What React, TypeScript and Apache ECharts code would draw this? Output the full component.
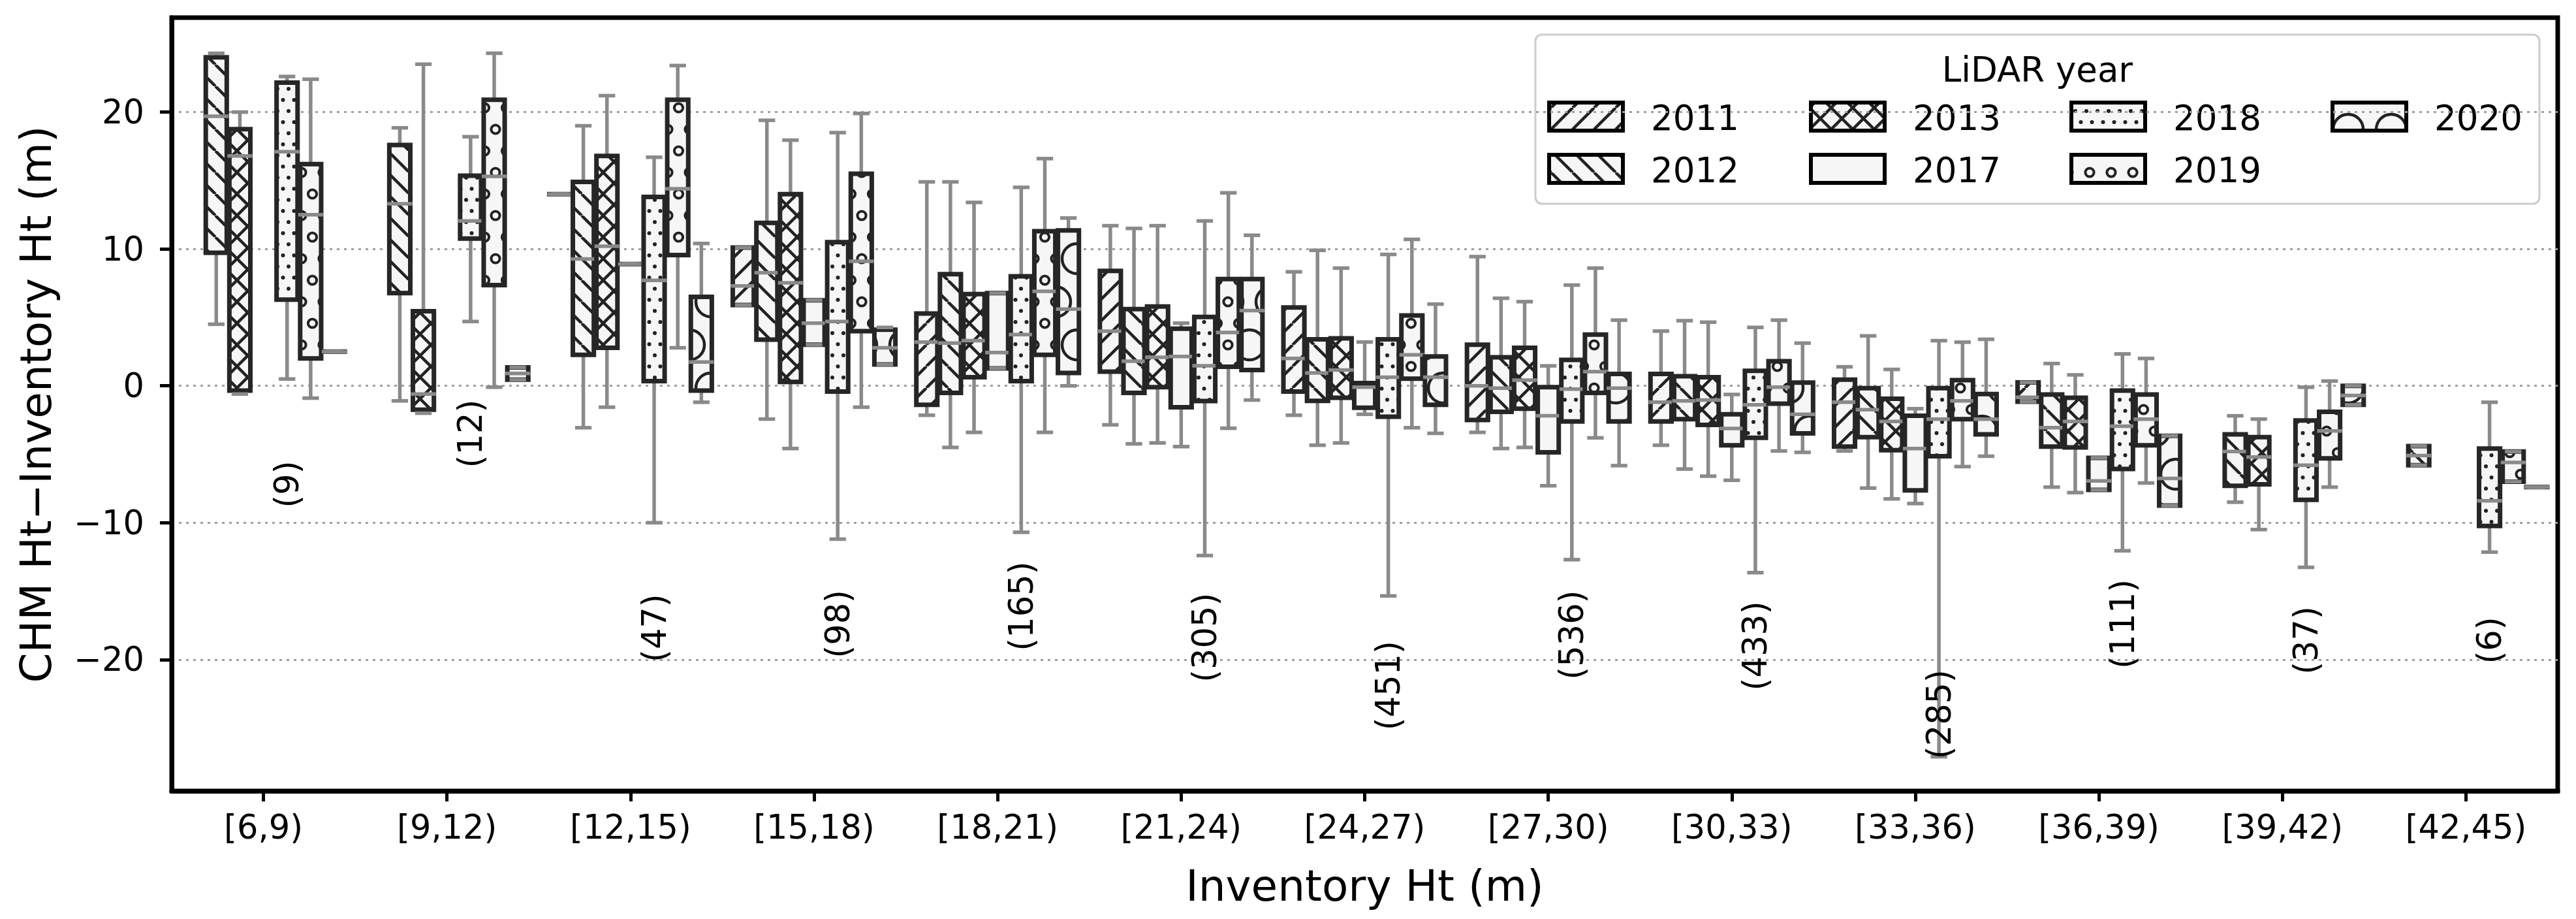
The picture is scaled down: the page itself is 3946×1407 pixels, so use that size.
import React, { useEffect, useRef } from 'react';
import * as echarts from 'echarts';

// ---------------- data ----------------
const CATEGORIES = ['[6,9)', '[9,12)', '[12,15)', '[15,18)', '[18,21)', '[21,24)', '[24,27)', '[27,30)', '[30,33)', '[33,36)', '[36,39)', '[39,42)', '[42,45)'];
const YEARS = ['2011', '2012', '2013', '2017', '2018', '2019', '2020'];
const Y_TICKS = [-20, -10, 0, 10, 20];
const Y_MIN = -29.6;
const Y_MAX = 26.9;

// each entry: [whiskerLow, Q1, median, Q3, whiskerHigh] per category; null = no data
const BOX_2011 = [null, null, [14.0, 14.0, 14.0, 14.0, 14.0], [5.9, 5.9, 7.3, 10.1, 10.1], [-2.15, -1.39, 3.19, 5.28, 14.9], [-2.85, 1.04, 4.0, 8.4, 11.7], [-2.15, -0.42, 2.0, 5.73, 8.33], [-3.4, -2.5, 0.0, 3.0, 9.44], [-4.34, -2.6, -1.2, 0.87, 4.0], [-4.76, -4.44, -1.2, 0.45, 1.39], [-1.16, -1.16, -0.84, 0.25, 0.25], null, null];
const BOX_2012 = [[4.5, 9.72, 19.7, 24.0, 24.3], [-1.1, 6.77, 13.3, 17.6, 18.85], [-3.06, 2.26, 9.27, 14.9, 19.0], [-2.43, 3.37, 8.26, 11.9, 19.4], [-4.5, -0.52, 3.12, 8.16, 14.9], [-4.24, -0.52, 1.8, 5.6, 11.5], [-4.34, -1.1, 0.94, 3.4, 9.9], [-4.58, -1.9, -0.17, 2.08, 6.4], [-6.08, -2.43, -1.1, 0.7, 4.76], [-7.47, -3.75, -1.74, -0.17, 3.65], [-7.4, -4.44, -3.06, -0.63, 1.63], [-8.5, -7.3, -4.8, -3.54, -2.19], [-5.8, -5.8, -5.1, -4.4, -4.4]];
const BOX_2013 = [[-0.6, -0.35, 16.8, 18.75, 20.0], [-2.0, -1.74, -0.6, 5.45, 23.5], [-1.56, 2.78, 10.2, 16.8, 21.2], [-4.58, 0.28, 7.53, 14.0, 17.95], [-3.4, 0.63, 3.3, 6.7, 13.4], [-4.17, -0.1, 2.08, 5.8, 11.7], [-4.17, -0.87, 1.15, 3.47, 8.6], [-4.5, -1.67, 0.42, 2.78, 6.15], [-6.6, -2.85, -1.04, 0.63, 4.65], [-8.26, -4.7, -2.6, -0.94, 1.2], [-7.8, -4.5, -2.6, -0.87, 0.8], [-10.5, -7.2, -5.2, -3.75, -2.43], null];
const BOX_2017 = [null, null, [8.9, 8.9, 8.9, 8.9, 8.9], [3.0, 3.0, 4.58, 6.25, 6.25], [1.28, 1.28, 2.43, 6.77, 6.77], [-4.44, -1.56, 2.15, 4.17, 4.58], [-2.08, -1.6, -0.1, 0.2, 3.2], [-7.3, -4.86, -2.19, -0.1, 1.46], [-6.9, -4.34, -3.12, -2.08, -0.63], [-8.6, -7.64, -4.58, -2.19, -1.67], [-7.6, -7.6, -6.94, -5.26, -5.26], null, null];
const BOX_2018 = [[0.5, 6.3, 17.1, 22.15, 22.6], [4.7, 10.76, 12.05, 15.35, 18.2], [-10.0, 0.35, 7.7, 13.8, 16.7], [-11.2, -0.42, 4.7, 10.5, 18.5], [-10.7, 0.35, 3.75, 8.0, 14.5], [-12.4, -1.11, 1.46, 5.03, 12.05], [-15.35, -2.26, 0.63, 3.4, 9.6], [-12.7, -2.6, -0.24, 1.9, 7.36], [-13.65, -3.8, -1.39, 1.1, 4.27], [-27.1, -5.14, -2.43, -0.17, 3.3], [-12.05, -6.08, -2.95, -0.35, 2.33], [-13.26, -8.33, -5.8, -2.53, -0.1], [-12.15, -10.24, -8.4, -4.58, -1.2]];
const BOX_2019 = [[-0.9, 2.0, 12.5, 16.2, 22.4], [-0.1, 7.36, 15.3, 20.9, 24.3], [2.78, 9.55, 14.4, 20.9, 23.4], [-1.56, 4.0, 9.1, 15.5, 19.9], [-3.4, 2.26, 6.9, 11.3, 16.6], [-3.1, 1.39, 3.9, 7.8, 14.1], [-3.06, 0.52, 2.26, 5.14, 10.7], [-3.8, -0.52, 1.04, 3.75, 8.6], [-4.76, -1.3, -0.1, 1.8, 4.8], [-5.9, -2.43, -1.1, 0.42, 3.19], [-7.1, -4.34, -2.43, -0.63, 2.0], [-7.4, -5.3, -3.3, -1.9, 0.35], [-7.0, -7.0, -5.6, -4.8, -4.8]];
const BOX_2020 = [[2.5, 2.5, 2.5, 2.5, 2.5], [0.45, 0.45, 0.9, 1.35, 1.35], [-1.2, -0.35, 1.74, 6.5, 10.4], [1.56, 1.56, 2.78, 4.1, 4.27], [0.0, 0.94, 5.6, 11.35, 12.26], [-1.04, 1.15, 5.5, 7.8, 11.0], [-3.47, -1.39, 0.63, 2.15, 5.97], [-5.83, -2.6, -0.17, 0.87, 4.8], [-4.86, -3.47, -2.08, 0.24, 3.12], [-5.14, -3.54, -2.43, -0.6, 3.4], [-8.75, -8.75, -6.77, -3.65, -3.65], [-1.39, -1.39, -0.7, 0.0, 0.0], [-7.4, -7.4, -7.4, -7.4, -7.4]];
const BOXES = [BOX_2011, BOX_2012, BOX_2013, BOX_2017, BOX_2018, BOX_2019, BOX_2020];

// sample size per category and the height at which its label sits
const COUNTS = [9, 12, 47, 98, 165, 305, 451, 536, 433, 285, 111, 37, 6];
const COUNT_LABEL_Y = [-7.2, -3.5, -17.7, -17.4, -16.1, -18.4, -21.9, -18.2, -19.0, -24.0, -17.4, -18.6, -18.6];

// ---------------- style ----------------
const FONT = 'DejaVu Sans';
const GRAY = '#8a8a8a';
const EDGE = '#262626';
const HATCH = '#222222';
const BG = '#f6f6f6';
const SLOT = 0.9 / 7;

type Pat = any;

function tile(w: number, h: number, draw: (ctx: CanvasRenderingContext2D, w: number, h: number) => void): Pat {
  const c = document.createElement('canvas');
  c.width = w;
  c.height = h;
  const ctx = c.getContext('2d') as CanvasRenderingContext2D;
  ctx.fillStyle = BG;
  ctx.fillRect(0, 0, w, h);
  ctx.strokeStyle = HATCH;
  ctx.fillStyle = HATCH;
  draw(ctx, w, h);
  return { image: c.toDataURL(), repeat: 'repeat', imageWidth: w, imageHeight: h };
}

function makePatterns(): Pat[] {
  const LW = 4.5;
  const slash = tile(33, 33, (ctx, w, h) => {
    ctx.lineWidth = LW;
    ctx.beginPath();
    for (let k = -1; k <= 1; k++) { ctx.moveTo(k * w, h); ctx.lineTo(k * w + w, 0); }
    ctx.stroke();
  });
  const back = tile(33, 33, (ctx, w, h) => {
    ctx.lineWidth = LW;
    ctx.beginPath();
    for (let k = -1; k <= 1; k++) { ctx.moveTo(k * w, 0); ctx.lineTo(k * w + w, h); }
    ctx.stroke();
  });
  const cross = tile(33, 33, (ctx, w, h) => {
    ctx.lineWidth = LW;
    ctx.beginPath();
    for (let k = -1; k <= 1; k++) {
      ctx.moveTo(k * w, h); ctx.lineTo(k * w + w, 0);
      ctx.moveTo(k * w, 0); ctx.lineTo(k * w + w, h);
    }
    ctx.stroke();
  });
  const shapes = (w: number, h: number, r: number, filled: boolean, lw: number) =>
    tile(w, h, (ctx) => {
      ctx.lineWidth = lw;
      const pts = [[0, 0], [w, 0], [0, h], [w, h], [w / 2, h / 2]];
      pts.forEach(([x, y]) => {
        ctx.beginPath();
        ctx.arc(x, y, r, 0, Math.PI * 2);
        if (filled) ctx.fill(); else ctx.stroke();
      });
    });
  const dots = shapes(17, 34, 3, true, 1);
  const small = shapes(33, 66, 6.6, false, 4);
  const large = shapes(66, 132, 23, false, 4.5);
  return [slash, back, cross, BG, dots, small, large];
}

export default function App() {
  const ref = useRef<HTMLDivElement>(null);

  useEffect(() => {
    document.body.style.margin = '0';
    if (!ref.current) return;
    const chart = echarts.init(ref.current, undefined, { renderer: 'svg' });
    const patterns = makePatterns();

    const boxSeries = YEARS.map((year, yi) => {
      const data = BOXES[yi]
        .map((s, ci) => (s ? [ci + (yi - 3) * SLOT, ...s] : null))
        .filter((d) => d !== null);
      return {
        type: 'custom',
        name: year,
        xAxisIndex: 1,
        yAxisIndex: 0,
        data,
        z: 5,
        renderItem: (params: any, api: any) => {
          const x = api.value(0);
          const pLo = api.coord([x, api.value(1)]);
          const pQ1 = api.coord([x, api.value(2)]);
          const pMed = api.coord([x, api.value(3)]);
          const pQ3 = api.coord([x, api.value(4)]);
          const pHi = api.coord([x, api.value(5)]);
          const cx = pLo[0];
          const w = api.size([SLOT, 0])[0];
          const cap = w * 0.7;
          const line = (x1: number, y1: number, x2: number, y2: number) => ({
            type: 'line',
            shape: { x1, y1, x2, y2 },
            style: { stroke: GRAY, lineWidth: 5.5 },
          });
          return {
            type: 'group',
            children: [
              line(cx, pQ3[1], cx, pHi[1]),
              line(cx, pQ1[1], cx, pLo[1]),
              {
                type: 'rect',
                shape: { x: cx - w / 2 + 2, y: pQ3[1], width: w - 4, height: Math.max(pQ1[1] - pQ3[1], 0.01) },
                style: { fill: patterns[yi], stroke: EDGE, lineWidth: 7 },
              },
              line(cx - cap / 2, pHi[1], cx + cap / 2, pHi[1]),
              line(cx - cap / 2, pLo[1], cx + cap / 2, pLo[1]),
              line(cx - w / 2 - 1, pMed[1], cx + w / 2 + 1, pMed[1]),
            ],
          };
        },
      };
    });

    const countSeries = {
      type: 'custom',
      name: 'n',
      xAxisIndex: 1,
      yAxisIndex: 0,
      z: 6,
      data: COUNTS.map((n, i) => [i + SLOT, COUNT_LABEL_Y[i], n]),
      renderItem: (params: any, api: any) => {
        const p = api.coord([api.value(0), api.value(1)]);
        return {
          type: 'text',
          x: p[0],
          y: p[1],
          rotation: Math.PI / 2,
          style: {
            text: '(' + api.value(2) + ')',
            fontSize: 51,
            fontFamily: FONT,
            fill: '#000',
            align: 'center',
            verticalAlign: 'middle',
          },
        };
      },
    };

    // legend drawn with graphic elements (column-major, 2 rows)
    const LEG_X = [2373, 2774, 3173, 3573];
    const LEG_Y = [157, 237];
    const legendChildren: any[] = [
      {
        type: 'rect',
        shape: { x: 2352, y: 53, width: 1538, height: 259, r: 10 },
        style: { fill: 'rgba(255,255,255,0.82)', stroke: '#cccccc', lineWidth: 3 },
      },
      {
        type: 'text',
        x: 3121,
        y: 106,
        style: { text: 'LiDAR year', fontSize: 53, fontFamily: FONT, fill: '#000', align: 'center', verticalAlign: 'middle' },
      },
    ];
    YEARS.forEach((year, yi) => {
      const col = Math.floor(yi / 2);
      const row = yi % 2;
      const x = LEG_X[col];
      const y = LEG_Y[row];
      legendChildren.push({
        type: 'rect',
        shape: { x, y, width: 113, height: 43 },
        style: { fill: patterns[yi], stroke: '#000', lineWidth: 6 },
      });
      legendChildren.push({
        type: 'text',
        x: x + 156,
        y: y + 23,
        style: { text: year, fontSize: 53, fontFamily: FONT, fill: '#000', align: 'left', verticalAlign: 'middle' },
      });
    });

    const fmt = (v: number) => (v < 0 ? '\u2212' + Math.abs(v) : String(v));

    chart.setOption({
      animation: false,
      backgroundColor: '#ffffff',
      textStyle: { fontFamily: FONT },
      grid: {
        left: 263,
        right: 28,
        top: 27,
        bottom: 196,
        show: true,
        borderColor: '#000',
        borderWidth: 7,
        backgroundColor: 'transparent',
      },
      xAxis: [
        {
          type: 'category',
          data: CATEGORIES,
          boundaryGap: true,
          name: 'Inventory Ht (m)',
          nameLocation: 'middle',
          nameGap: 112,
          nameTextStyle: { fontSize: 66, fontFamily: FONT, color: '#000' },
          axisLine: { show: true, onZero: false, lineStyle: { color: '#000', width: 7 } },
          axisTick: { show: true, alignWithLabel: true, length: 16, lineStyle: { color: '#000', width: 5 } },
          axisLabel: { fontSize: 51, fontFamily: FONT, color: '#000', margin: 30, interval: 0 },
          splitLine: { show: false },
        },
        {
          type: 'value',
          min: -0.5,
          max: 12.5,
          show: false,
          axisLine: { onZero: false },
          splitLine: { show: false },
        },
      ],
      yAxis: {
        type: 'value',
        min: Y_MIN,
        max: Y_MAX,
        minInterval: 10,
        maxInterval: 10,
        name: 'CHM Ht\u2212Inventory Ht (m)',
        nameLocation: 'middle',
        nameGap: 175,
        nameTextStyle: { fontSize: 66, fontFamily: FONT, color: '#000' },
        axisLine: { show: true, onZero: false, lineStyle: { color: '#000', width: 7 } },
        axisTick: { show: true, length: 18, lineStyle: { color: '#000', width: 5 }, customValues: Y_TICKS },
        axisLabel: {
          fontSize: 51,
          fontFamily: FONT,
          color: '#000',
          margin: 42,
          customValues: Y_TICKS,
          formatter: (v: number) => fmt(v),
        },
        splitLine: { show: true, lineStyle: { color: '#a0a0a0', width: 3, type: [4, 7] } },
      },
      graphic: [{ type: 'group', z: 100, children: legendChildren }],
      series: [...boxSeries, countSeries],
    } as any);

    return () => chart.dispose();
  }, []);

  return <div ref={ref} style={{ position: 'absolute', left: 0, top: 0, width: 3946, height: 1407 }} />;
}
